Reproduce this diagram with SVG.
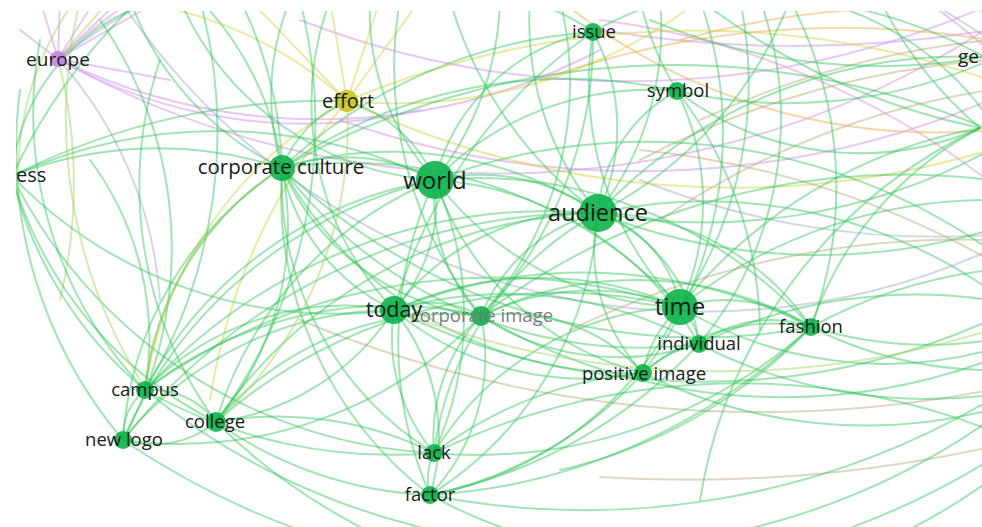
<svg xmlns="http://www.w3.org/2000/svg" width="982" height="527" viewBox="0 0 982 527">
<defs>
<clipPath id="view"><rect x="16" y="11" width="966" height="516"/></clipPath>
<style>
.e path{fill:none;stroke-width:2;stroke-linecap:round}
.g{stroke:#2fc458;stroke-opacity:.45}
.lg{stroke:#a9d66a;stroke-opacity:.5}
.pu{stroke:#d59ae9;stroke-opacity:.55}
.ye{stroke:#d6d64e;stroke-opacity:.5}
.or{stroke:#e9b055;stroke-opacity:.5}
.br{stroke:#bfae82;stroke-opacity:.5}
.gb{stroke:#9aa6c0;stroke-opacity:.45}
.pk{stroke:#e59ad8;stroke-opacity:.55}
.n circle{fill:#0db34a;fill-opacity:.9}
text{font-family:"Open Sans","DejaVu Sans",sans-serif;fill:#1a1a1a;text-anchor:middle;font-size:18.5px}
</style>
</defs>
<rect width="982" height="527" fill="#ffffff"/>
<g clip-path="url(#view)">
<g id="connectors" class="e">
<path class="pu" d="M58 59 L20 30"/>
<path class="pu" d="M58 59 L95 0"/>
<path class="pu" d="M58 59 L60 0"/>
<path class="pu" d="M58 59 L40 0"/>
<path class="pu" d="M58 59 L120 0"/>
<path class="pu" d="M58 59 L160 0"/>
<path class="pu" d="M58 59 A 600 600 0 0 0 600 50"/>
<path class="pu" d="M58 59 A 700 700 0 0 1 1000 60"/>
<path class="pu" d="M58 59 A 500 500 0 0 0 420 110"/>
<path class="pu" d="M58 59 A 900 900 0 0 0 1000 20"/>
<path class="pu" d="M58 59 L170 80"/>
<path class="pu" d="M300 20 A 900 900 0 0 0 1000 0"/>
<path class="pu" d="M340 120 A 900 900 0 0 0 990 100"/>
<path class="pk" d="M600 20 A 800 800 0 0 1 1000 190"/>
<path class="pu" d="M600 30 A 1200 1200 0 0 0 990 30"/>
<path class="gb" d="M58 59 A 400 400 0 0 1 160 300"/>
<path class="gb" d="M120 0 A 700 700 0 0 0 990 250"/>
<path class="gb" d="M58 59 A 800 800 0 0 1 990 40"/>
<path class="gb" d="M640 180 A 800 800 0 0 0 990 235"/>
<path class="lg" d="M58 59 A 500 500 0 0 1 60 300"/>
<path class="lg" d="M58 59 L110 0"/>
<path class="lg" d="M75 0 A 300 300 0 0 0 18 175"/>
<path class="ye" d="M347 101 L250 0"/>
<path class="ye" d="M347 101 L330 0"/>
<path class="ye" d="M347 101 L380 0"/>
<path class="ye" d="M347 101 L420 0"/>
<path class="ye" d="M347 101 A 900 900 0 0 1 990 80"/>
<path class="ye" d="M347 101 A 900 900 0 0 0 990 150"/>
<path class="ye" d="M347 101 A 400 400 0 0 0 120 0"/>
<path class="ye" d="M347 101 A 600 600 0 0 0 210 400"/>
<path class="ye" d="M347 101 A 400 400 0 0 0 145 390"/>
<path class="ye" d="M347 101 A 500 500 0 0 0 700 0"/>
<path class="or" d="M560 0 A 600 600 0 0 0 990 130"/>
<path class="or" d="M540 80 A 900 900 0 0 1 990 40"/>
<path class="or" d="M680 40 A 900 900 0 0 1 990 10"/>
<path class="br" d="M640 160 A 900 900 0 0 1 990 60"/>
<path class="br" d="M660 220 A 800 800 0 0 1 990 90"/>
<path class="br" d="M640 150 A 900 900 0 0 1 990 260"/>
<path class="br" d="M570 330 A 900 900 0 0 1 990 240"/>
<path class="br" d="M300 320 A 1200 1200 0 0 0 990 390"/>
<path class="br" d="M600 477 A 1400 1400 0 0 0 990 447"/>
<path class="br" d="M700 120 A 900 900 0 0 1 990 40"/>
<path class="g" d="M435 180 A 200 200 0 0 1 598 213"/>
<path class="g" d="M282 168 A 190 190 0 0 1 435 180"/>
<path class="g" d="M435 180 A 160 160 0 0 1 394 310"/>
<path class="g" d="M435 180 A 170 170 0 0 0 481 316"/>
<path class="g" d="M435 180 A 320 320 0 0 0 680 307"/>
<path class="g" d="M347 101 A 140 140 0 0 1 435 180"/>
<path class="g" d="M435 180 A 330 330 0 0 1 434 453"/>
<path class="g" d="M435 180 A 380 380 0 0 0 430 495"/>
<path class="g" d="M145 390 A 400 400 0 0 1 435 180"/>
<path class="g" d="M216 422 A 380 380 0 0 1 435 180"/>
<path class="g" d="M435 180 A 200 200 0 0 1 593 32"/>
<path class="g" d="M435 180 A 300 300 0 0 1 677 91"/>
<path class="g" d="M435 180 A 300 300 0 0 0 643 373"/>
<path class="g" d="M435 180 A 330 330 0 0 1 699 344"/>
<path class="g" d="M435 180 A 450 450 0 0 1 811 327"/>
<path class="g" d="M435 180 A 250 250 0 0 1 370 0"/>
<path class="g" d="M435 180 A 300 300 0 0 0 500 0"/>
<path class="g" d="M435 180 A 300 300 0 0 1 180 0"/>
<path class="g" d="M12 176 A 500 500 0 0 1 435 180"/>
<path class="g" d="M435 180 A 600 600 0 0 1 990 250"/>
<path class="g" d="M123 440 A 450 450 0 0 1 435 180"/>
<path class="g" d="M593 32 A 200 200 0 0 1 598 213"/>
<path class="g" d="M598 213 A 150 150 0 0 1 677 91"/>
<path class="g" d="M598 213 A 120 120 0 0 1 680 307"/>
<path class="g" d="M598 213 A 160 160 0 0 1 699 344"/>
<path class="g" d="M598 213 A 180 180 0 0 0 643 373"/>
<path class="g" d="M481 316 A 170 170 0 0 1 598 213"/>
<path class="g" d="M394 310 A 240 240 0 0 1 598 213"/>
<path class="g" d="M282 168 A 380 380 0 0 1 598 213"/>
<path class="g" d="M598 213 A 260 260 0 0 1 811 327"/>
<path class="g" d="M434 453 A 320 320 0 0 1 598 213"/>
<path class="g" d="M430 495 A 360 360 0 0 0 598 213"/>
<path class="g" d="M216 422 A 480 480 0 0 1 598 213"/>
<path class="g" d="M145 390 A 550 550 0 0 1 598 213"/>
<path class="g" d="M123 440 A 600 600 0 0 1 598 213"/>
<path class="g" d="M598 213 A 500 500 0 0 1 990 290"/>
<path class="g" d="M598 213 A 600 600 0 0 0 990 150"/>
<path class="g" d="M598 213 A 300 300 0 0 0 660 0"/>
<path class="g" d="M598 213 A 300 300 0 0 1 530 0"/>
<path class="g" d="M598 213 A 500 500 0 0 1 985 57"/>
<path class="g" d="M598 213 A 600 600 0 0 0 990 230"/>
<path class="g" d="M598 213 A 400 400 0 0 0 790 0"/>
<path class="g" d="M598 213 A 400 400 0 0 1 450 0"/>
<path class="g" d="M680 307 A 60 60 0 0 1 699 344"/>
<path class="g" d="M680 307 A 150 150 0 0 1 811 327"/>
<path class="g" d="M680 307 A 120 120 0 0 0 643 373"/>
<path class="g" d="M394 310 A 350 350 0 0 1 680 307"/>
<path class="g" d="M481 316 A 250 250 0 0 1 680 307"/>
<path class="g" d="M282 168 A 450 450 0 0 1 680 307"/>
<path class="g" d="M677 91 A 250 250 0 0 1 680 307"/>
<path class="g" d="M593 32 A 320 320 0 0 0 680 307"/>
<path class="g" d="M680 307 A 400 400 0 0 0 990 350"/>
<path class="g" d="M680 307 A 500 500 0 0 1 990 200"/>
<path class="g" d="M216 422 A 520 520 0 0 1 680 307"/>
<path class="g" d="M145 390 A 600 600 0 0 1 680 307"/>
<path class="g" d="M434 453 A 300 300 0 0 1 680 307"/>
<path class="g" d="M430 495 A 350 350 0 0 0 680 307"/>
<path class="g" d="M680 307 A 400 400 0 0 0 740 0"/>
<path class="g" d="M680 307 A 500 500 0 0 1 980 128"/>
<path class="g" d="M282 168 A 120 120 0 0 1 347 101"/>
<path class="g" d="M282 168 A 200 200 0 0 0 394 310"/>
<path class="g" d="M282 168 A 250 250 0 0 0 481 316"/>
<path class="g" d="M145 390 A 300 300 0 0 1 282 168"/>
<path class="g" d="M216 422 A 300 300 0 0 0 282 168"/>
<path class="g" d="M123 440 A 350 350 0 0 1 282 168"/>
<path class="g" d="M282 168 A 320 320 0 0 0 434 453"/>
<path class="g" d="M282 168 A 380 380 0 0 0 430 495"/>
<path class="g" d="M282 168 A 300 300 0 0 1 130 0"/>
<path class="g" d="M282 168 A 300 300 0 0 0 200 0"/>
<path class="g" d="M282 168 A 250 250 0 0 1 290 0"/>
<path class="g" d="M282 168 A 400 400 0 0 0 240 0"/>
<path class="g" d="M12 176 A 400 400 0 0 1 282 168"/>
<path class="g" d="M282 168 A 450 450 0 0 0 699 344"/>
<path class="g" d="M282 168 A 400 400 0 0 0 643 373"/>
<path class="g" d="M282 168 A 600 600 0 0 0 811 327"/>
<path class="g" d="M282 168 A 800 800 0 0 1 990 130"/>
<path class="g" d="M282 168 A 500 500 0 0 1 593 32"/>
<path class="g" d="M282 168 A 500 500 0 0 1 677 91"/>
<path class="g" d="M394 310 A 100 100 0 0 1 481 316"/>
<path class="g" d="M394 310 A 180 180 0 0 0 434 453"/>
<path class="g" d="M394 310 A 200 200 0 0 1 430 495"/>
<path class="g" d="M394 310 A 280 280 0 0 0 145 390"/>
<path class="g" d="M394 310 A 250 250 0 0 1 216 422"/>
<path class="g" d="M394 310 A 350 350 0 0 0 123 440"/>
<path class="g" d="M394 310 A 300 300 0 0 0 643 373"/>
<path class="g" d="M394 310 A 400 400 0 0 1 699 344"/>
<path class="g" d="M394 310 A 500 500 0 0 1 811 327"/>
<path class="g" d="M12 176 A 450 450 0 0 0 394 310"/>
<path class="g" d="M394 310 A 700 700 0 0 0 990 320"/>
<path class="g" d="M394 310 A 300 300 0 0 1 330 0"/>
<path class="g" d="M481 316 A 180 180 0 0 0 434 453"/>
<path class="g" d="M481 316 A 200 200 0 0 1 430 495"/>
<path class="g" d="M481 316 A 180 180 0 0 1 643 373"/>
<path class="g" d="M481 316 A 250 250 0 0 0 699 344"/>
<path class="g" d="M481 316 A 350 350 0 0 1 811 327"/>
<path class="g" d="M216 422 A 300 300 0 0 1 481 316"/>
<path class="g" d="M145 390 A 400 400 0 0 1 481 316"/>
<path class="g" d="M123 440 A 420 420 0 0 0 481 316"/>
<path class="g" d="M481 316 A 350 350 0 0 0 560 0"/>
<path class="g" d="M481 316 A 400 400 0 0 1 400 0"/>
<path class="g" d="M481 316 A 600 600 0 0 0 990 360"/>
<path class="g" d="M481 316 A 700 700 0 0 1 990 180"/>
<path class="g" d="M434 453 A 60 60 0 0 0 430 495"/>
<path class="g" d="M434 453 A 700 700 0 0 1 990 430"/>
<path class="g" d="M434 453 A 400 400 0 0 1 643 373"/>
<path class="g" d="M434 453 A 350 350 0 0 0 216 422"/>
<path class="g" d="M434 453 A 500 500 0 0 1 145 390"/>
<path class="g" d="M434 453 A 500 500 0 0 0 811 327"/>
<path class="g" d="M430 495 A 800 800 0 0 0 990 400"/>
<path class="g" d="M430 495 A 400 400 0 0 0 643 373"/>
<path class="g" d="M430 495 A 400 400 0 0 1 216 422"/>
<path class="g" d="M430 495 A 500 500 0 0 0 699 344"/>
<path class="g" d="M430 495 A 600 600 0 0 0 811 327"/>
<path class="g" d="M430 495 A 500 500 0 0 0 800 540"/>
<path class="g" d="M643 373 A 120 120 0 0 1 699 344"/>
<path class="g" d="M643 373 A 200 200 0 0 1 811 327"/>
<path class="g" d="M643 373 A 500 500 0 0 0 990 410"/>
<path class="g" d="M643 373 A 400 400 0 0 0 700 0"/>
<path class="g" d="M699 344 A 120 120 0 0 1 811 327"/>
<path class="g" d="M699 344 A 500 500 0 0 0 990 395"/>
<path class="g" d="M699 344 A 500 500 0 0 1 990 300"/>
<path class="g" d="M699 344 A 350 350 0 0 0 760 0"/>
<path class="g" d="M811 327 A 400 400 0 0 0 990 340"/>
<path class="g" d="M811 327 A 400 400 0 0 0 990 370"/>
<path class="g" d="M811 327 A 500 500 0 0 1 990 270"/>
<path class="g" d="M811 327 A 400 400 0 0 0 790 0"/>
<path class="g" d="M811 327 A 350 350 0 0 1 980 128"/>
<path class="g" d="M811 327 A 500 500 0 0 1 560 470"/>
<path class="g" d="M677 91 A 300 300 0 0 0 980 128"/>
<path class="g" d="M677 91 A 300 300 0 0 1 640 0"/>
<path class="g" d="M677 91 A 500 500 0 0 0 990 60"/>
<path class="g" d="M677 91 A 400 400 0 0 1 760 330"/>
<path class="g" d="M593 32 A 300 300 0 0 1 990 120"/>
<path class="g" d="M593 32 A 200 200 0 0 0 430 0"/>
<path class="g" d="M593 32 A 400 400 0 0 1 481 316"/>
<path class="g" d="M593 32 A 500 500 0 0 0 394 310"/>
<path class="g" d="M980 128 A 500 500 0 0 0 700 500"/>
<path class="g" d="M980 128 A 700 700 0 0 1 700 0"/>
<path class="g" d="M980 128 A 400 400 0 0 1 880 0"/>
<path class="g" d="M985 57 A 500 500 0 0 0 810 0"/>
<path class="g" d="M985 57 A 600 600 0 0 1 650 20"/>
<path class="g" d="M145 390 A 60 60 0 0 0 123 440"/>
<path class="g" d="M145 390 A 80 80 0 0 1 216 422"/>
<path class="g" d="M123 440 A 100 100 0 0 0 216 422"/>
<path class="g" d="M145 390 A 400 400 0 0 1 40 40"/>
<path class="g" d="M123 440 A 450 450 0 0 1 20 90"/>
<path class="g" d="M145 390 A 300 300 0 0 0 90 160"/>
<path class="g" d="M123 440 A 400 400 0 0 0 100 20"/>
<path class="g" d="M145 390 A 500 500 0 0 0 200 0"/>
<path class="g" d="M216 422 A 400 400 0 0 1 160 60"/>
<path class="g" d="M216 422 A 500 500 0 0 0 300 0"/>
<path class="g" d="M216 422 A 600 600 0 0 0 990 480"/>
<path class="g" d="M145 390 A 700 700 0 0 0 990 420"/>
<path class="g" d="M123 440 A 800 800 0 0 0 990 460"/>
<path class="g" d="M12 176 A 400 400 0 0 0 216 422"/>
<path class="g" d="M12 176 A 500 500 0 0 0 434 453"/>
<path class="g" d="M12 176 A 200 200 0 0 1 160 0"/>
<path class="g" d="M12 176 A 600 600 0 0 1 990 20"/>
<path class="g" d="M12 176 A 400 400 0 0 0 145 390"/>
<path class="g" d="M12 176 A 700 700 0 0 1 347 101"/>
<path class="lg" d="M394 310 A 900 900 0 0 0 990 330"/>
<path class="lg" d="M282 168 A 300 300 0 0 0 145 390"/>
<path class="lg" d="M347 101 A 400 400 0 0 1 216 422"/>
<path class="lg" d="M80 0 A 500 500 0 0 0 140 380"/>
</g>
</g>
<g clip-path="url(#view)">
<g id="node-europe" class="n"><circle cx="58" cy="59" r="8" style="fill:#bf86de"/><text x="58" y="66" style="font-size:19px">europe</text></g>
<g id="node-effort" class="n"><circle cx="347" cy="101" r="11" style="fill:#c8c420"/><text x="348" y="108" style="font-size:20px">effort</text></g>
<g id="node-business" class="n"><circle cx="4" cy="176" r="9"/><text x="16" y="182" style="font-size:20px;text-anchor:start">ess</text></g>
<g id="node-corporate-culture" class="n"><circle cx="282" cy="168" r="13"/><text x="281" y="174" style="font-size:20.5px">corporate culture</text></g>
<g id="node-world" class="n"><circle cx="435" cy="180" r="19"/><text x="435" y="189" style="font-size:24px">world</text></g>
<g id="node-issue" class="n"><circle cx="593" cy="32" r="9"/><text x="594" y="38">issue</text></g>
<g id="node-symbol" class="n"><circle cx="677" cy="91" r="9"/><text x="678" y="97">symbol</text></g>
<g id="node-audience" class="n"><circle cx="598" cy="213" r="19"/><text x="598" y="221" style="font-size:23.5px">audience</text></g>
<g id="node-general" class="n"><circle cx="992" cy="56" r="9"/><text x="958" y="63" style="font-size:19px;text-anchor:start">ge</text></g>
<g id="node-time" class="n"><circle cx="680" cy="307" r="18"/><text x="680" y="315" style="font-size:24px">time</text></g>
<g id="node-individual" class="n"><circle cx="699" cy="344" r="9"/><text x="699" y="350">individual</text></g>
<g id="node-fashion" class="n"><circle cx="811" cy="327" r="9"/><text x="811" y="333">fashion</text></g>
<g id="node-positive-image" class="n"><circle cx="643" cy="373" r="9"/><text x="644" y="380">positive image</text></g>
<g id="node-corporate-image" class="n"><circle cx="481" cy="316" r="10"/><text x="482" y="322" style="fill:#7d7d7d">corporate image</text></g>
<g id="node-today" class="n"><circle cx="394" cy="310" r="14"/><text x="394" y="317" style="font-size:21.5px">today</text></g>
<g id="node-campus" class="n"><circle cx="145" cy="390" r="9"/><text x="145" y="396">campus</text></g>
<g id="node-college" class="n"><circle cx="216" cy="422" r="10"/><text x="215" y="428">college</text></g>
<g id="node-new-logo" class="n"><circle cx="123" cy="440" r="9"/><text x="124" y="446">new logo</text></g>
<g id="node-lack" class="n"><circle cx="434" cy="453" r="9"/><text x="434" y="459">lack</text></g>
<g id="node-factor" class="n"><circle cx="430" cy="495" r="9"/><text x="430" y="501">factor</text></g>
</g>
</svg>
